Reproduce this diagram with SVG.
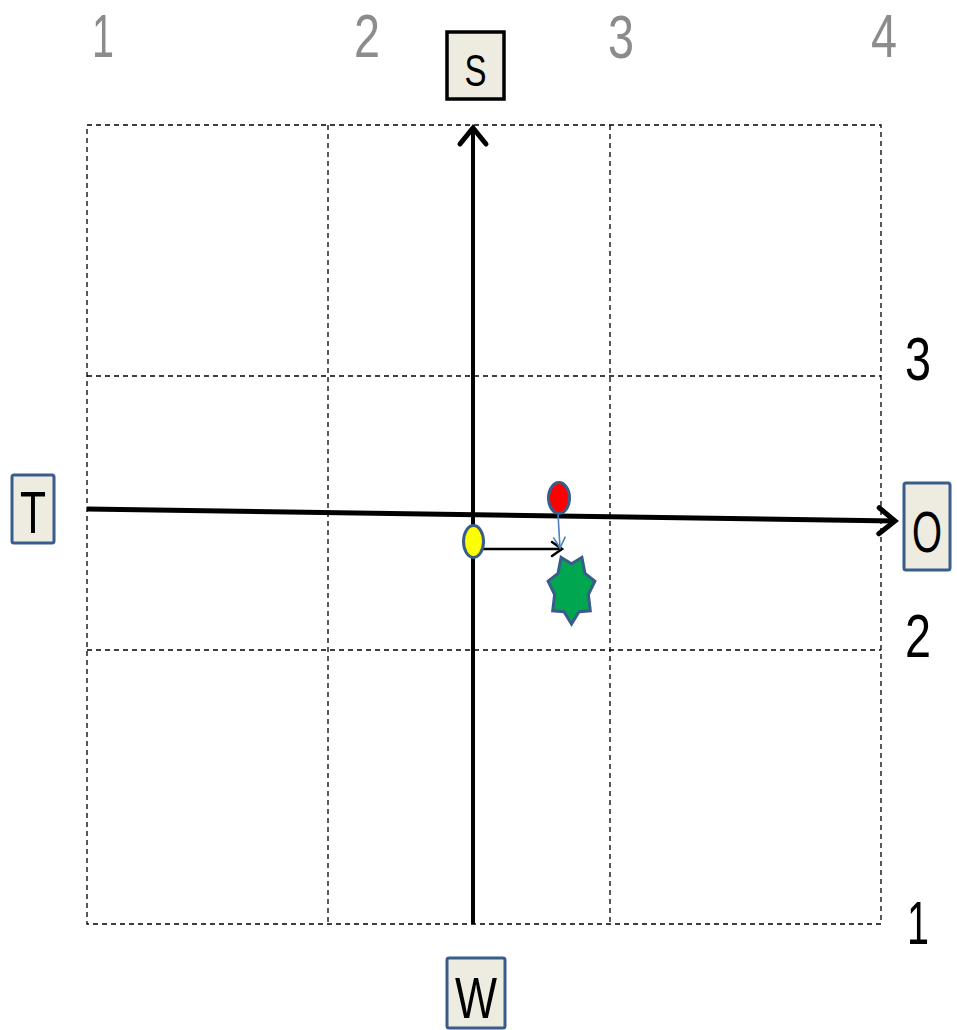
<svg xmlns="http://www.w3.org/2000/svg" width="957" height="1030" viewBox="0 0 957 1030">
<style>
.grid{stroke:#000;stroke-width:1.3;stroke-dasharray:5,4;fill:none}
.box{fill:#eeece1;stroke:#385d8a;stroke-width:3}
.boxk{fill:#eeece1;stroke:#000;stroke-width:3.5}
.lbl{font-family:"Liberation Sans",Arial,sans-serif;fill:#000;text-anchor:middle}
.num{font-family:"Liberation Sans",Arial,sans-serif;font-size:62px;text-anchor:middle}
.gray{fill:#8c8c8c}
</style>
<defs>
<marker id="big" markerUnits="userSpaceOnUse" viewBox="0 0 22 30" refX="18" refY="15" markerWidth="22" markerHeight="30" orient="auto" overflow="visible">
<path d="M2,2 L18,15 L2,28" fill="none" stroke="#000" stroke-width="5" stroke-linecap="round"/>
</marker>
<marker id="small" markerUnits="userSpaceOnUse" viewBox="0 0 14 20" refX="12" refY="10" markerWidth="14" markerHeight="20" orient="auto" overflow="visible">
<path d="M2,3 L12,10 L2,17" fill="none" stroke="#000" stroke-width="2.5" stroke-linecap="round"/>
</marker>
<marker id="blue" markerUnits="userSpaceOnUse" viewBox="0 0 14 16" refX="12" refY="8" markerWidth="14" markerHeight="16" orient="auto" overflow="visible">
<path d="M1,2 L12,8 L1,14" fill="none" stroke="#4f81bd" stroke-width="1.6"/>
</marker>
</defs>
<rect width="957" height="1030" fill="#fff"/>
<g id="grid">
<rect class="grid" x="87" y="125" width="794" height="799"/>
<line class="grid" x1="328" y1="125" x2="328" y2="924"/>
<line class="grid" x1="610" y1="125" x2="610" y2="924"/>
<line class="grid" x1="87" y1="376" x2="881" y2="376"/>
<line class="grid" x1="87" y1="650" x2="881" y2="650"/>
</g>
<g id="labels">
<text class="num gray" x="103" y="57" textLength="22" lengthAdjust="spacingAndGlyphs">1</text>
<text class="num gray" x="367" y="57" textLength="26" lengthAdjust="spacingAndGlyphs">2</text>
<text class="num gray" x="621" y="58" textLength="26" lengthAdjust="spacingAndGlyphs">3</text>
<text class="num gray" x="884" y="57" textLength="26" lengthAdjust="spacingAndGlyphs">4</text>
<text class="num" x="918" y="380" textLength="26" lengthAdjust="spacingAndGlyphs">3</text>
<text class="num" x="918" y="657" textLength="26" lengthAdjust="spacingAndGlyphs">2</text>
<text class="num" x="918" y="944" textLength="22" lengthAdjust="spacingAndGlyphs">1</text>
</g>
<g id="connectors">
<line x1="473" y1="924" x2="473" y2="128" stroke="#000" stroke-width="4" marker-end="url(#big)"/>
<line x1="87" y1="509" x2="895" y2="521" stroke="#000" stroke-width="5" marker-end="url(#big)"/>
<line x1="477" y1="549" x2="562" y2="549" stroke="#000" stroke-width="2.5" marker-end="url(#small)"/>
<line x1="558" y1="514" x2="560" y2="548" stroke="#4f81bd" stroke-width="1.6" marker-end="url(#blue)"/>
</g>
<g id="node-S">
<rect class="boxk" x="447" y="32" width="57" height="67"/>
<text class="lbl" x="475.5" y="86" font-size="44" textLength="22" lengthAdjust="spacingAndGlyphs">S</text>
</g>
<g id="node-T">
<rect class="box" x="12" y="475" width="42" height="68" rx="2"/>
<text class="lbl" x="33" y="533" font-size="60" textLength="26" lengthAdjust="spacingAndGlyphs">T</text>
</g>
<g id="node-O">
<rect class="box" x="904" y="483" width="46" height="87" rx="2"/>
<text class="lbl" x="927" y="552" font-size="58" textLength="30" lengthAdjust="spacingAndGlyphs">O</text>
</g>
<g id="node-W">
<rect class="box" x="447" y="958" width="58" height="70" rx="2"/>
<text class="lbl" x="476" y="1018" font-size="58" textLength="42" lengthAdjust="spacingAndGlyphs">W</text>
</g>
<g id="node-yellow">
<ellipse cx="473.5" cy="541.5" rx="10" ry="16" fill="#ffff00" stroke="#385d8a" stroke-width="3"/>
</g>
<g id="node-red">
<ellipse cx="559" cy="498" rx="10.5" ry="15.5" fill="#ff0000" stroke="#385d8a" stroke-width="3"/>
</g>
<g id="node-star">
<polygon points="571.5,624 564.0,611.7 552.7,610.8 554.6,594.6 548.1,581.2 558.0,573.3 561.1,557.5 571.5,563.8 581.9,557.5 585.0,573.3 594.9,581.2 588.4,594.6 590.3,610.8 579.0,611.7" fill="#00a650" stroke="#385d8a" stroke-width="3" stroke-linejoin="miter"/>
</g>
</svg>
